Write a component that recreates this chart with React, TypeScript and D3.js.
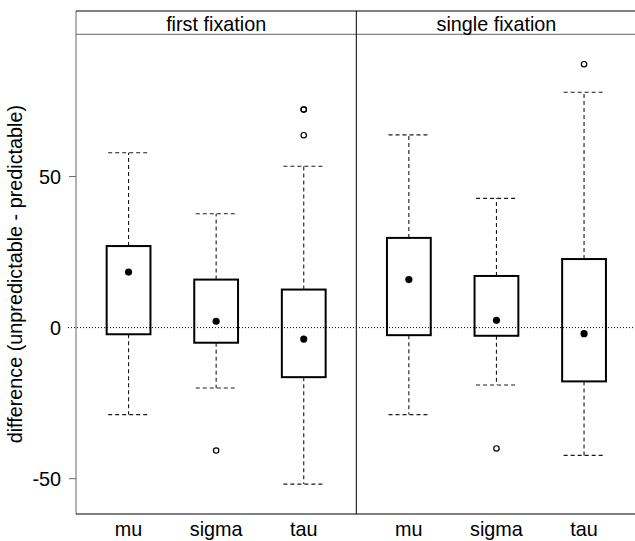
import React from "react";
import * as d3 from "d3";

const panels = ["first fixation", "single fixation"];
const categories = ["mu", "sigma", "tau"];
const yTicks = [-50, 0, 50];

// [lower whisker, Q1, median, Q3, upper whisker] per category
const firstFixationStats = [
  [-28.8, -2.2, 18.4, 27.0, 57.9],
  [-20.0, -5.0, 2.1, 15.9, 37.7],
  [-51.8, -16.4, -3.8, 12.6, 53.4],
];
const firstFixationOutliers = [[], [-40.7], [63.7, 72.2, 72.2]];

const singleFixationStats = [
  [-28.8, -2.5, 15.9, 29.7, 63.8],
  [-19.0, -2.7, 2.4, 17.1, 42.8],
  [-42.3, -17.8, -2.0, 22.7, 77.9],
];
const singleFixationOutliers = [[], [-40.0], [87.2]];

const panelStats = [firstFixationStats, singleFixationStats];
const panelOutliers = [firstFixationOutliers, singleFixationOutliers];

const W = 635;
const H = 541;
const left = 76;
const panelW = 280.3;
const stripTop = 11;
const stripBottom = 34.3;
const bottom = 514;
const FONT = "'Liberation Sans', Arial, sans-serif";
const FS = 19.8;

export default function App() {
  const y = d3.scaleLinear().domain([-61.7, 97.1]).range([bottom, stripBottom]);
  const grey = "#666";
  return (
    <svg width={W} height={H} style={{ position: "absolute", left: 0, top: 0, background: "#fff" }}
      fontFamily={FONT}>
      <rect x={0} y={0} width={W} height={H} fill="#fff" />
      {/* y axis ticks */}
      {yTicks.map((t) => (
        <g key={t}>
          {t !== 0 && <line x1={left - 7} x2={left} y1={y(t)} y2={y(t)} stroke={grey} strokeWidth={1} />}
          <text x={61} y={y(t)} dy="0.36em" textAnchor="end" fontSize={FS} fill="#000">
            {t}
          </text>
        </g>
      ))}
      <text
        transform={`translate(22,${(stripBottom + bottom) / 2}) rotate(-90)`}
        textAnchor="middle"
        fontSize={FS}
        fill="#000"
      >
        difference (unpredictable - predictable)
      </text>
      {/* reference line */}
      <line x1={68} x2={left + 2 * panelW} y1={y(0)} y2={y(0)} stroke="#000" strokeWidth={1}
        strokeDasharray="1,2" />
      {panels.map((p, pi) => {
        const x0 = left + pi * panelW;
        const x = d3.scaleLinear().domain([0.4, 3.6]).range([x0, x0 + panelW]);
        const unit = x(1) - x(0);
        const bw = unit * 0.5;
        const cw = bw * 0.93;
        return (
          <g key={p}>
            {/* strip */}
            <line x1={x0} x2={x0 + panelW} y1={stripBottom} y2={stripBottom} stroke={grey} strokeWidth={1} />
            <text x={x0 + panelW / 2} y={31} textAnchor="middle" fontSize={FS} fill="#000">
              {p}
            </text>
            {categories.map((c, ci) => {
              const s = panelStats[pi][ci];
              const cx = x(ci + 1);
              return (
                <g key={c}>
                  {/* whiskers */}
                  <g stroke="#1a1a1a" strokeWidth={1.1} strokeDasharray="4,3" fill="none">
                    <line x1={cx} x2={cx} y1={y(s[3])} y2={y(s[4])} />
                    <line x1={cx} x2={cx} y1={y(s[1])} y2={y(s[0])} />
                    <line x1={cx - cw / 2} x2={cx + cw / 2} y1={y(s[4])} y2={y(s[4])} />
                    <line x1={cx - cw / 2} x2={cx + cw / 2} y1={y(s[0])} y2={y(s[0])} />
                  </g>
                  <rect x={cx - bw / 2} y={y(s[3])} width={bw} height={y(s[1]) - y(s[3])}
                    fill="none" stroke="#000" strokeWidth={2} />
                  <circle cx={cx} cy={y(s[2])} r={3.6} fill="#000" />
                  {panelOutliers[pi][ci].map((o, oi) => (
                    <circle key={oi} cx={cx} cy={y(o)} r={2.7} fill="none" stroke="#000" strokeWidth={1.2} />
                  ))}
                  <text x={cx} y={536} textAnchor="middle" fontSize={FS} fill="#000">
                    {c}
                  </text>
                </g>
              );
            })}
          </g>
        );
      })}
      {/* frame */}
      <line x1={left} x2={left} y1={stripTop} y2={bottom} stroke={grey} strokeWidth={1} />
      <line x1={left} x2={left + 2 * panelW} y1={stripTop} y2={stripTop} stroke="#000" strokeWidth={1.2} />
      <line x1={left} x2={left + 2 * panelW} y1={bottom} y2={bottom} stroke="#000" strokeWidth={1.2} />
      <line x1={left + panelW} x2={left + panelW} y1={stripTop} y2={bottom} stroke="#000" strokeWidth={1} />
    </svg>
  );
}
